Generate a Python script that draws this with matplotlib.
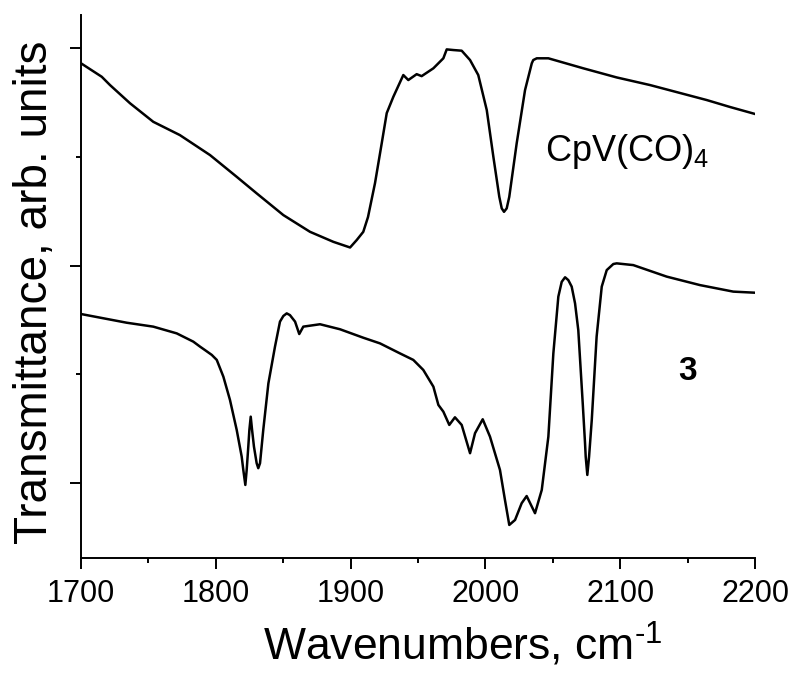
import numpy as np
import matplotlib.pyplot as plt
from matplotlib.ticker import MultipleLocator, NullFormatter

plt.rcParams['font.family'] = ['Liberation Sans', 'DejaVu Sans']
plt.rcParams['mathtext.fontset'] = 'custom'
plt.rcParams['mathtext.rm'] = 'Liberation Sans'
plt.rcParams['mathtext.it'] = 'Liberation Sans'
plt.rcParams['mathtext.bf'] = 'Liberation Sans:bold'

# CpV(CO)4 spectrum (upper trace), wavenumber / offset transmittance
wn_cpv = [1700, 1715.4, 1721.5, 1736.4, 1753.6, 1773.3, 1795.7, 1815.5, 1830.3,
          1850.1, 1869.9, 1887.2, 1899.6, 1904.5, 1909.4, 1912.9, 1918.1, 1923.1,
          1926.8, 1931.7, 1939.1, 1942.8, 1949.0, 1952.7, 1961.4, 1968.8, 1971.3,
          1976.2, 1982.4, 1988.6, 1994.7, 2001.0, 2005.9, 2010.3, 2012.1, 2013.8,
          2015.8, 2017.7, 2023.2, 2029.4, 2034.4, 2035.5, 2038.1, 2046.7, 2072.6,
          2097.4, 2122.1, 2164.2, 2181.5, 2200]
tr_cpv = [1.930, 1.868, 1.830, 1.746, 1.661, 1.600, 1.508, 1.408, 1.332,
          1.232, 1.155, 1.109, 1.083, 1.117, 1.155, 1.223, 1.379, 1.563,
          1.701, 1.776, 1.876, 1.853, 1.880, 1.871, 1.907, 1.953, 1.994,
          1.991, 1.988, 1.945, 1.876, 1.715, 1.500, 1.316, 1.263, 1.247,
          1.263, 1.316, 1.562, 1.807, 1.930, 1.945, 1.953, 1.953, 1.907,
          1.865, 1.830, 1.761, 1.729, 1.697]

# compound 3 spectrum (lower trace)
wn_3 = [1700, 1733.9, 1753.6, 1771.0, 1783.3, 1788.3, 1792.0, 1797.0, 1800.7,
        1805.6, 1810.5, 1815.5, 1819.2, 1820.4, 1821.9, 1822.9, 1824.1, 1824.9,
        1825.9, 1826.9, 1828.3, 1830.3, 1831.5, 1832.8, 1835.2, 1839.0, 1843.9,
        1847.6, 1850.1, 1852.6, 1855.0, 1858.8, 1861.9, 1864.9, 1877.3, 1892.1,
        1909.4, 1921.8, 1936.6, 1946.5, 1953.9, 1961.4, 1965.1, 1968.8, 1973.2,
        1977.4, 1982.4, 1988.6, 1992.3, 1998.0, 2003.4, 2010.8, 2014.5, 2017.7,
        2022.0, 2026.9, 2030.6, 2036.8, 2041.8, 2046.7, 2050.4, 2054.1, 2056.6,
        2059.1, 2061.5, 2064.0, 2066.5, 2068.9, 2072.2, 2073.9, 2074.4, 2075.6,
        2076.9, 2078.9, 2082.5, 2086.3, 2090.0, 2094.9, 2097.4, 2109.7,
        2134.5, 2159.2, 2183.9, 2200]
tr_3 = [0.777, 0.737, 0.719, 0.688, 0.650, 0.627, 0.611, 0.589, 0.566,
        0.489, 0.382, 0.244, 0.121, 0.060, -0.009, 0.060, 0.167, 0.244,
        0.305, 0.244, 0.167, 0.091, 0.068, 0.091, 0.244, 0.458, 0.627,
        0.742, 0.768, 0.780, 0.772, 0.742, 0.685, 0.719, 0.730, 0.707,
        0.668, 0.642, 0.596, 0.566, 0.520, 0.443, 0.359, 0.328, 0.267,
        0.302, 0.267, 0.137, 0.229, 0.293, 0.213, 0.060, -0.078, -0.193,
        -0.170, -0.093, -0.060, -0.139, -0.032, 0.213, 0.596, 0.857, 0.925,
        0.946, 0.933, 0.903, 0.826, 0.703, 0.366, 0.183, 0.121, 0.037,
        0.121, 0.290, 0.673, 0.903, 0.979, 1.007, 1.010, 1.002,
        0.949, 0.910, 0.880, 0.875]

fig = plt.figure(figsize=(7.95, 6.74), dpi=100)
ax = fig.add_axes([0.1019, 0.1721, 0.8478, 0.8056])

ax.plot(wn_cpv, tr_cpv, color='black', lw=1.8)
ax.plot(wn_3, tr_3, color='black', lw=1.8)

ax.text(2044.2, 1.480, r'CpV(CO)$_{\mathregular{4}}$', fontsize=26, ha='left', va='baseline')
ax.text(2142.9, 0.474, '3', fontsize=24, fontweight='bold', ha='left', va='baseline')

ax.set_xlim(1700, 2200)
ax.set_ylim(-0.345, 2.152)
ax.spines['top'].set_visible(False)
ax.spines['right'].set_visible(False)
for s in ('left', 'bottom'):
    ax.spines[s].set_linewidth(1.4)

ax.xaxis.set_major_locator(MultipleLocator(100))
ax.xaxis.set_minor_locator(MultipleLocator(50))
ax.yaxis.set_major_locator(MultipleLocator(1))
ax.yaxis.set_minor_locator(MultipleLocator(0.5))
ax.yaxis.set_major_formatter(NullFormatter())
ax.tick_params(which='major', direction='out', length=8, width=1.4, labelsize=22, pad=7)
ax.tick_params(which='minor', direction='out', length=3.6, width=1.4)

ax.set_xlabel(r'Wavenumbers, cm$^{\text{-1}}$', fontsize=32, va='baseline')
ax.xaxis.set_label_coords(0.566, -0.188)
ax.set_ylabel('Transmittance, arb. units', fontsize=33, va='baseline')
ax.yaxis.set_label_coords(-0.0504, 0.49)

fig.savefig('out.png', dpi=100)
